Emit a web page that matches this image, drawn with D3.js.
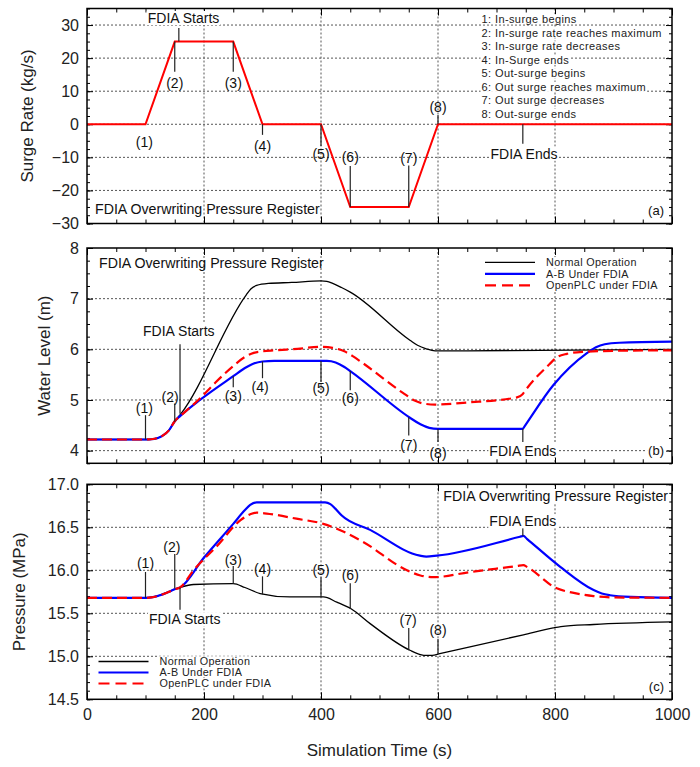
<!DOCTYPE html>
<html><head><meta charset="utf-8">
<script src="https://cdn.jsdelivr.net/npm/d3@7"></script>
<style>body{margin:0;background:#fff} text{font-family:Arial,"Liberation Sans",sans-serif}</style>
</head><body><svg id="chart" width="700" height="767"></svg>
<script>
// ---------------- data ----------------
const xTickValues = [0, 200, 400, 600, 800, 1000];
const surgeTicks = [30, 20, 10, 0, -10, -20, -30];
const levelTicks = [8, 7, 6, 5, 4];
const pressureTicks = [17.0, 16.5, 16.0, 15.5, 15.0, 14.5];

// (a) surge rate
const surgeTime = [0, 100, 150, 250, 300, 400, 450, 550, 600, 1000];
const surgeRate = [0, 0, 25, 25, 0, 0, -25, -25, 0, 0];

// (b) water level
const levelNormalT = [0,100,110,120,130,140,150,160,272,280,290,310,350,400,410,420,435,450,552,565,580,595,650,1000];
const levelNormalV = [4.22,4.22,4.225,4.245,4.30,4.40,4.58,4.72,7.07,7.19,7.26,7.30,7.32,7.35,7.34,7.30,7.22,7.13,6.18,6.08,6.01,5.97,5.97,6.0];
const levelABT = [0,100,110,120,130,140,150,160,193,250,270,285,300,320,410,425,440,450,552,570,585,600,745,748,797,854,870,885,910,1000];
const levelABV = [4.22,4.22,4.225,4.245,4.30,4.40,4.58,4.69,5.0,5.47,5.63,5.72,5.76,5.77,5.77,5.74,5.65,5.57,4.65,4.52,4.45,4.43,4.43,4.48,5.29,5.92,6.04,6.10,6.13,6.15];
const levelOpenT = [0,100,110,120,130,140,150,160,175,193,220,250,270,285,300,320,360,400,420,440,455,470,540,560,575,595,650,735,745,752,790,803,820,848,900,1000];
const levelOpenV = [4.22,4.22,4.225,4.245,4.30,4.40,4.58,4.69,4.84,5.03,5.35,5.67,5.85,5.93,5.96,5.98,6.01,6.05,6.03,5.96,5.86,5.74,5.14,4.99,4.93,4.91,4.95,5.05,5.12,5.23,5.70,5.84,5.91,5.95,5.97,5.98];

// (c) pressure
const presNormalT = [0,100,110,125,140,150,159,182,250,270,296,347,404,427,452,484,552,570,580,590,603,746,797,810,866,1000];
const presNormalV = [15.68,15.68,15.685,15.71,15.75,15.78,15.80,15.835,15.845,15.80,15.73,15.69,15.69,15.63,15.55,15.38,15.07,15.02,15.01,15.01,15.03,15.25,15.33,15.345,15.37,15.40];
const presABT = [0,100,110,125,140,150,159,199,250,270,279,290,300,407,416,424,435,484,569,580,598,740,746,752,809,866,880,894,930,1000];
const presABV = [15.68,15.68,15.685,15.71,15.75,15.78,15.80,16.14,16.54,16.70,16.76,16.79,16.79,16.79,16.77,16.72,16.64,16.47,16.17,16.16,16.17,16.39,16.40,16.366,16.04,15.77,15.73,15.71,15.69,15.68];
const presOpenT = [0,100,110,125,140,150,159,182,222,262,280,290,307,358,404,438,472,547,570,592,655,735,746,752,803,830,866,900,1000];
const presOpenV = [15.68,15.68,15.685,15.71,15.75,15.78,15.80,16.0,16.28,16.58,16.655,16.67,16.66,16.60,16.54,16.45,16.33,16.0,15.94,15.92,15.98,16.05,16.06,16.04,15.79,15.74,15.70,15.685,15.68];

const seriesNames = ["Normal Operation", "A-B Under FDIA", "OpenPLC under FDIA"];
const surgeNotes = ["1: In-surge begins","2: In-surge rate reaches maximum","3: In-surge rate decreases","4: In-Surge ends","5: Out-surge begins","6: Out surge reaches maximum","7: Out surge decreases","8: Out-surge ends"];

// annotations: t = time of marker line, v0..v1 = line extent, lt/lv = label centre (data units)
const annotA = [
  {label:"FDIA Starts", t:157, v0:25, v1:29.1, lt:165, lv:32.1},
  {label:"(1)", t:100, v0:null, v1:null, lt:98, lv:-5.3},
  {label:"(2)", t:150, v0:25, v1:15.9, lt:150, lv:12.4},
  {label:"(3)", t:250, v0:25, v1:15.9, lt:250, lv:12.4},
  {label:"(4)", t:300, v0:0, v1:-3.2, lt:300, lv:-6.6},
  {label:"(5)", t:400, v0:0, v1:-6.6, lt:400, lv:-9.1},
  {label:"(6)", t:450, v0:-25, v1:-12.6, lt:450, lv:-9.9},
  {label:"(7)", t:550, v0:-25, v1:-12.5, lt:550, lv:-10.3},
  {label:"(8)", t:600, v0:0, v1:2.8, lt:600, lv:5.3},
  {label:"FDIA Ends", t:745, v0:0, v1:-5.9, lt:747, lv:-8.9}
];
const annotB = [
  {label:"FDIA Starts", t:159, v0:4.73, v1:6.10, lt:157, lv:6.36},
  {label:"(1)", t:100, v0:4.22, v1:4.70, lt:98, lv:4.84},
  {label:"(2)", t:150, v0:4.57, v1:4.93, lt:142, lv:5.06},
  {label:"(3)", t:250, v0:5.47, v1:5.25, lt:250, lv:5.08},
  {label:"(4)", t:300, v0:5.76, v1:5.43, lt:296, lv:5.25},
  {label:"(5)", t:400, v0:5.77, v1:5.36, lt:400, lv:5.23},
  {label:"(6)", t:450, v0:5.57, v1:5.19, lt:450, lv:5.03},
  {label:"(7)", t:550, v0:4.66, v1:4.30, lt:550, lv:4.10},
  {label:"(8)", t:600, v0:4.43, v1:4.17, lt:600, lv:3.95},
  {label:"FDIA Ends", t:745, v0:4.43, v1:4.17, lt:745, lv:4.0}
];
const annotC = [
  {label:"(1)", t:100, v0:15.68, v1:15.98, lt:100, lv:16.08},
  {label:"(2)", t:150, v0:15.79, v1:16.19, lt:145, lv:16.27},
  {label:"FDIA Starts", t:159, v0:15.80, v1:15.54, lt:167, lv:15.43},
  {label:"(3)", t:250, v0:15.845, v1:16.05, lt:250, lv:16.12},
  {label:"(4)", t:300, v0:15.72, v1:15.93, lt:300, lv:16.01},
  {label:"(5)", t:400, v0:15.69, v1:15.92, lt:400, lv:16.0},
  {label:"(6)", t:450, v0:15.55, v1:15.85, lt:450, lv:15.95},
  {label:"(7)", t:550, v0:15.07, v1:15.33, lt:549, lv:15.42},
  {label:"(8)", t:600, v0:15.03, v1:15.20, lt:600, lv:15.30},
  {label:"FDIA Ends", t:745, v0:16.40, v1:16.49, lt:745, lv:16.57}
];

// ---------------- drawing ----------------
const svg = d3.select("#chart");
const L = 87, R = 672;
const x = d3.scaleLinear([0, 1000], [L, R]);
const colors = ["#000000", "#0000ff", "#ff0000"];
const GRID = "#555";

function textBg(g, sel, pad) {
  const b = sel.node().getBBox();
  g.insert("rect", () => sel.node())
    .attr("x", b.x - pad).attr("y", b.y + 1).attr("width", b.width + 2 * pad).attr("height", b.height - 2)
    .attr("fill", "#fff");
}
function addText(g, xp, yp, str, opts = {}) {
  const t = g.append("text").attr("x", xp).attr("y", yp).attr("dy", "0.35em")
    .attr("text-anchor", opts.anchor || "middle")
    .attr("font-size", opts.size || 14)
    .attr("fill", opts.fill || "#111")
    .style("letter-spacing", opts.ls || "0px")
    .text(str);
  if (opts.bg) textBg(g, t, opts.pad || 1);
  return t;
}

function panel(cfg) {
  const y = d3.scaleLinear(cfg.domain, [cfg.bottom, cfg.top]);
  const g = svg.append("g");
  const gridX = [200, 400, 600, 800];
  g.selectAll(null).data(gridX).join("line")
    .attr("x1", d => x(d)).attr("x2", d => x(d)).attr("y1", cfg.top).attr("y2", cfg.bottom)
    .attr("stroke", GRID).attr("stroke-width", 1).attr("stroke-dasharray", "2,2");
  g.selectAll(null).data(cfg.grid).join("line")
    .attr("x1", L).attr("x2", R).attr("y1", d => y(d)).attr("y2", d => y(d))
    .attr("stroke", GRID).attr("stroke-width", 1).attr("stroke-dasharray", "2,2");

  const minorX = d3.range(0, 1001, 50);
  const mk = (gen, tr) => g.append("g").attr("transform", tr).call(gen)
    .call(s => s.select(".domain").remove())
    .call(s => s.selectAll("line").attr("stroke", "#000"));
  mk(d3.axisBottom(x).tickValues(minorX).tickSize(-4).tickFormat(""), `translate(0,${cfg.bottom})`);
  mk(d3.axisTop(x).tickValues(minorX).tickSize(-4).tickFormat(""), `translate(0,${cfg.top})`);
  mk(d3.axisBottom(x).tickValues(xTickValues).tickSize(-7).tickFormat(""), `translate(0,${cfg.bottom})`);
  mk(d3.axisTop(x).tickValues(xTickValues).tickSize(-7).tickFormat(""), `translate(0,${cfg.top})`);
  const minorY = d3.range(cfg.domain[0], cfg.domain[1] + 1e-9, cfg.minor).map(v => +v.toFixed(4));
  mk(d3.axisLeft(y).tickValues(minorY).tickSize(-3).tickFormat(""), `translate(${L},0)`);
  mk(d3.axisRight(y).tickValues(minorY).tickSize(-3).tickFormat(""), `translate(${R},0)`);
  mk(d3.axisRight(y).tickValues(cfg.ticks).tickSize(-6).tickFormat(""), `translate(${R},0)`);
  const la = mk(d3.axisLeft(y).tickValues(cfg.ticks).tickSize(-6).tickPadding(8).tickFormat(cfg.fmt), `translate(${L},0)`);
  la.selectAll("text").attr("font-size", 16).attr("fill", "#222").attr("font-family", "Arial, 'Liberation Sans', sans-serif");
  if (cfg.xLabels) {
    const bx = mk(d3.axisBottom(x).tickValues(xTickValues).tickSize(0).tickPadding(9).tickFormat(d3.format("d")), `translate(0,${cfg.bottom})`);
    bx.selectAll("text").attr("font-size", 16).attr("fill", "#222").attr("font-family", "Arial, 'Liberation Sans', sans-serif");
  }
  g.append("text").attr("transform", `translate(${cfg.titleX},${(cfg.top + cfg.bottom) / 2}) rotate(-90)`)
    .attr("text-anchor", "middle").attr("dy", "0.35em").attr("font-size", 17).attr("fill", "#222").text(cfg.title);
  return {g, y};
}

function drawAnnots(p, list) {
  list.forEach(a => {
    if (a.v0 !== null) {
      p.g.append("line").attr("x1", x(a.t)).attr("x2", x(a.t)).attr("y1", p.y(a.v0)).attr("y2", p.y(a.v1))
        .attr("stroke", "#222").attr("stroke-width", 1.2);
    }
  });
  list.forEach(a => addText(p.g, x(a.lt), p.y(a.lv), a.label, {size: 14, bg: a.label.startsWith("FDIA")}));
}
function series(p, T, V, i, curve, width) {
  const line = d3.line().x(d => x(d[0])).y(d => p.y(d[1])).curve(curve || d3.curveMonotoneX);
  const path = p.g.append("path").datum(T.map((t, k) => [t, V[k]])).attr("d", line)
    .attr("fill", "none").attr("stroke", colors[i])
    .attr("stroke-width", width || (i === 0 ? 1.3 : 2.2));
  if (i === 2 && curve !== d3.curveLinear) path.attr("stroke-dasharray", "10,5");
}
function frame(cfg) {
  svg.append("rect").attr("x", L).attr("y", cfg.top).attr("width", R - L).attr("height", cfg.bottom - cfg.top)
    .attr("fill", "none").attr("stroke", "#000").attr("stroke-width", 1.5);
}
function legend(p, x0, y0, dy) {
  seriesNames.forEach((n, i) => {
    const yy = y0 + i * dy;
    addText(p.g, x0 + 61, yy, n, {anchor: "start", size: 10.8, ls: "0.35px", fill: "#222", bg: true});
    const ln = p.g.append("line").attr("x1", x0).attr("x2", x0 + 50).attr("y1", yy).attr("y2", yy)
      .attr("stroke", colors[i]).attr("stroke-width", i === 0 ? 1.3 : 2.2);
    if (i === 2) ln.attr("stroke-dasharray", "11,6");
  });
}

// panel (a)
const cfgA = {top: 8.5, bottom: 223.5, domain: [-30, 35], ticks: surgeTicks, grid: [30, 20, 10, 0, -10, -20], minor: 2.5,
  fmt: d3.format("d"), title: "Surge Rate (kg/s)", titleX: 27};
const pA = panel(cfgA);
series(pA, surgeTime, surgeRate, 2, d3.curveLinear, 2);
drawAnnots(pA, annotA);
surgeNotes.forEach((s, i) => addText(pA.g, 481.5, 19.3 + i * 13.55, s, {anchor: "start", size: 11, ls: "0.4px", fill: "#222", bg: true}));
addText(pA.g, 95, 209.5, "FDIA Overwriting Pressure Register", {anchor: "start", size: 14.2});
addText(pA.g, 664, 210, "(a)", {anchor: "end", size: 13, bg: true});
frame(cfgA);

// panel (b)
const cfgB = {top: 248, bottom: 463.3, domain: [3.75, 8], ticks: levelTicks, grid: [7, 6, 5, 4], minor: 0.25,
  fmt: d3.format("d"), title: "Water Level (m)", titleX: 44};
const pB = panel(cfgB);
series(pB, levelNormalT, levelNormalV, 0);
series(pB, levelABT, levelABV, 1);
series(pB, levelOpenT, levelOpenV, 2);
drawAnnots(pB, annotB);
legend(pB, 485, 262.3, 11.5);
addText(pB.g, 99, 263.5, "FDIA Overwriting Pressure Register", {anchor: "start", size: 14.2});
addText(pB.g, 664, 450.3, "(b)", {anchor: "end", size: 13, bg: true});
frame(cfgB);

// panel (c)
const cfgC = {top: 484.3, bottom: 699.3, domain: [14.5, 17], ticks: pressureTicks, grid: [16.5, 16.0, 15.5, 15.0], minor: 0.1,
  fmt: d3.format(".1f"), title: "Pressure (MPa)", titleX: 19.5, xLabels: true};
const pC = panel(cfgC);
series(pC, presNormalT, presNormalV, 0);
series(pC, presABT, presABV, 1);
series(pC, presOpenT, presOpenV, 2);
drawAnnots(pC, annotC);
legend(pC, 98.5, 661.5, 11);
addText(pC.g, 668, 496, "FDIA Overwriting Pressure Register", {anchor: "end", size: 14.2, bg: true});
addText(pC.g, 664, 686.7, "(c)", {anchor: "end", size: 13, bg: true});
frame(cfgC);

// x title
svg.append("text").attr("x", (L + R) / 2).attr("y", 750).attr("dy", "0.35em").attr("text-anchor", "middle")
  .attr("font-size", 17).attr("fill", "#222").text("Simulation Time (s)");
</script></body></html>
